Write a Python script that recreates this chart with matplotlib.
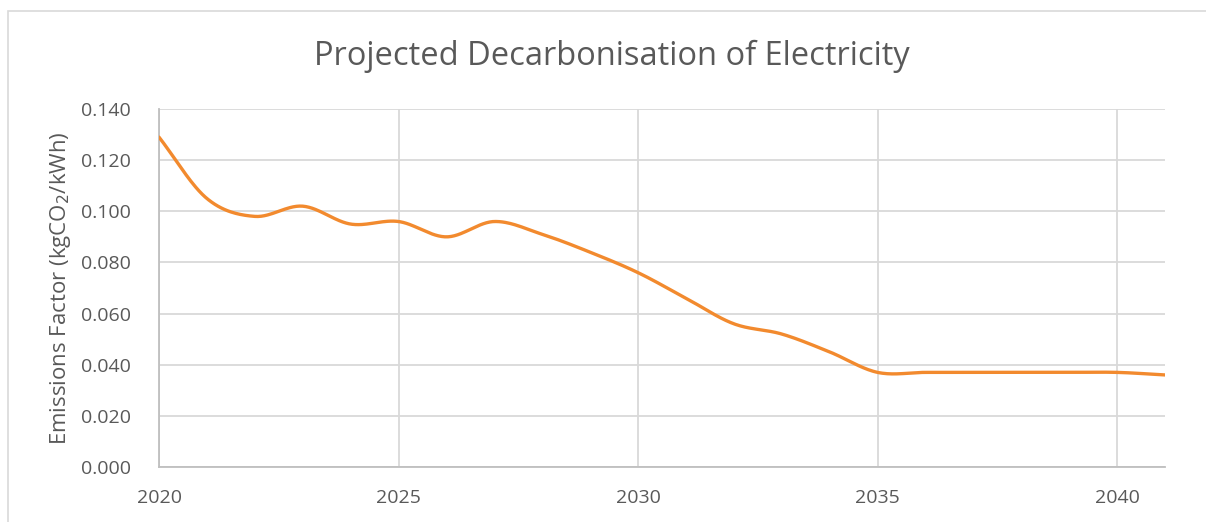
import numpy as np
from matplotlib import pyplot as plt
from matplotlib.patches import Rectangle

years = [2020, 2021, 2022, 2023, 2024, 2025, 2026, 2027, 2028, 2029, 2030,
         2031, 2032, 2033, 2034, 2035, 2036, 2037, 2038, 2039, 2040, 2041]
factor = [0.129, 0.105, 0.098, 0.102, 0.095, 0.096, 0.090, 0.096, 0.091, 0.084, 0.076,
          0.066, 0.056, 0.052, 0.045, 0.037, 0.037, 0.037, 0.037, 0.037, 0.037, 0.036]
xticks = [2020, 2025, 2030, 2035, 2040]
yticks = [0.0, 0.02, 0.04, 0.06, 0.08, 0.10, 0.12, 0.14]


def smooth(x, y, n=30):
    # catmull-rom style smoothing like excel's "smoothed line"
    x = np.asarray(x, float)
    y = np.asarray(y, float)
    px = np.concatenate([[2 * x[0] - x[1]], x, [2 * x[-1] - x[-2]]])
    py = np.concatenate([[2 * y[0] - y[1]], y, [2 * y[-1] - y[-2]]])
    xs, ys = [], []
    t = np.linspace(0, 1, n, endpoint=False)
    for i in range(1, len(px) - 2):
        for arr, out in ((px, xs), (py, ys)):
            p0, p1, p2, p3 = arr[i - 1], arr[i], arr[i + 1], arr[i + 2]
            out.extend(0.5 * ((2 * p1) + (-p0 + p2) * t
                              + (2 * p0 - 5 * p1 + 4 * p2 - p3) * t ** 2
                              + (-p0 + 3 * p1 - 3 * p2 + p3) * t ** 3))
    xs.append(x[-1])
    ys.append(y[-1])
    return np.array(xs), np.array(ys)


plt.rcParams['font.family'] = ['Open Sans', 'DejaVu Sans']
text_col = '#595959'
grid_col = '#d9d9d9'

fig = plt.figure(figsize=(12.06, 5.22), dpi=100)
# chart area frame (right and bottom edges fall outside the picture)
fig.patches.append(Rectangle((8 / 1206, -0.1), 1.2, 1 - 10.5 / 522 + 0.1,
                             transform=fig.transFigure, fill=False,
                             edgecolor='#d9d9d9', linewidth=1.2))

ax = fig.add_axes([159 / 1206, 1 - 467 / 522, (1165 - 159) / 1206, (467 - 109) / 522])
sx, sy = smooth(years, factor)
ax.plot(sx, sy, color='#f28a2e', linewidth=2.4, solid_capstyle='round', zorder=3)

ax.set_xlim(2020, 2041)
ax.set_ylim(0, 0.14)
ax.set_xticks(xticks)
ax.set_yticks(yticks)
ax.set_yticklabels(['%.3f' % v for v in yticks])
ax.grid(True, color=grid_col, linewidth=1.3)
ax.set_axisbelow(True)
ax.tick_params(length=0, labelsize=14, labelcolor=text_col)
ax.tick_params(axis='y', pad=20)
ax.tick_params(axis='x', pad=16)
for s in ['top', 'right']:
    ax.spines[s].set_visible(False)
for s in ['left', 'bottom']:
    ax.spines[s].set_color('#bfbfbf')
    ax.spines[s].set_linewidth(1.3)

ax.set_ylabel('Emissions Factor (kgCO$_2$/kWh)', fontsize=16, color=text_col, labelpad=6)
fig.text(612 / 1206, 1 - 56 / 522, 'Projected Decarbonisation of Electricity',
         fontsize=23.5, color=text_col, ha='center', va='center')

fig.savefig('out.png', dpi=100)
